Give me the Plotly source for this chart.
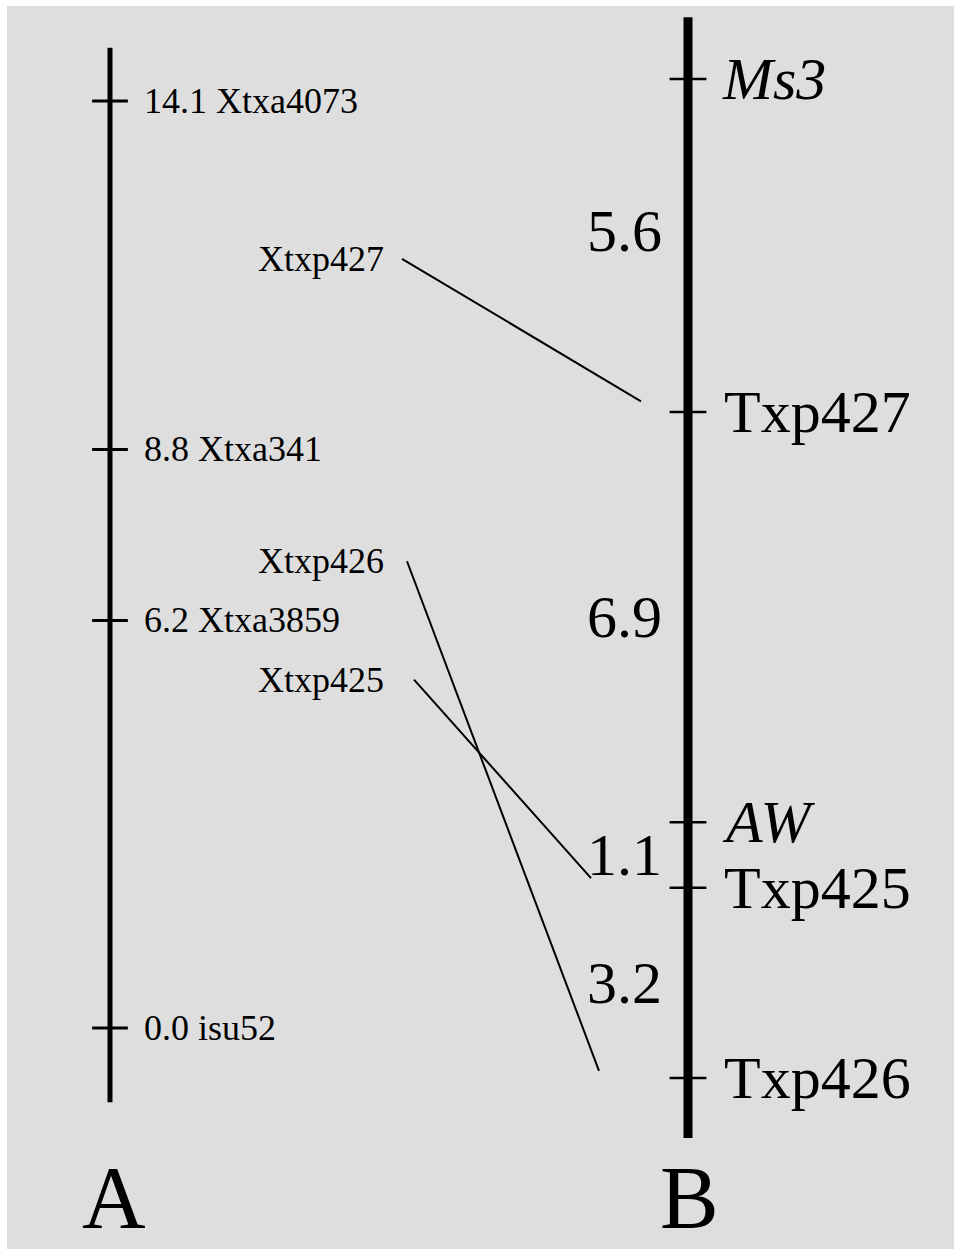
import itertools
import plotly.graph_objects as go

# ---------------- data ----------------
# Map A (cM from isu52)
map_a_markers = ["Xtxa4073", "Xtxa341", "Xtxa3859", "isu52"]
map_a_cm = [14.1, 8.8, 6.2, 0.0]
map_a_extent = [-1.13, 14.91]

# Map B (intervals in cM, from Ms3 downward)
map_b_markers = ["Ms3", "Txp427", "AW", "Txp425", "Txp426"]
map_b_italic = [True, False, True, False, False]
map_b_intervals = [5.6, 6.9, 1.1, 3.2]
map_b_extent = [-1.04, 17.81]

# Shared SSR markers linking the two maps
shared_markers = ["Xtxp427", "Xtxp426", "Xtxp425"]
shared_a_cm = [11.7, 7.1, 5.3]          # approximate placement next to map A
shared_b_end_cm = [5.42, 16.68, 13.44]  # where the link reaches map B

map_titles = ["A", "B"]

# ---------------- layout constants (pixels) ----------------
W, H = 954, 1249
ML, MT = 7, 6
A_ZERO_PX, A_PX_PER_CM = 1028, 65.74
B_ZERO_PX, B_PX_PER_CM = 79, 59.46
X_A, X_B = 110, 688
LINK_X0 = [402, 407, 414]
LINK_X1 = [641, 599, 591]
FONT = "Liberation Serif, Times New Roman, serif"
INK = "#000000"
BG = "#dedede"

map_b_cm = [0.0] + list(itertools.accumulate(map_b_intervals))


def b_to_a(cm_b):
    px = B_ZERO_PX + cm_b * B_PX_PER_CM
    return (A_ZERO_PX - px) / A_PX_PER_CM


def px_to_a(px):
    return (A_ZERO_PX - px) / A_PX_PER_CM


fig = go.Figure()

# chromosome A
fig.add_trace(go.Scatter(x=[X_A, X_A], y=map_a_extent, mode="lines",
                         line=dict(color=INK, width=5), yaxis="y",
                         hoverinfo="skip"))
fig.add_trace(go.Scatter(x=[X_A] * len(map_a_cm), y=map_a_cm, mode="markers",
                         marker=dict(symbol="line-ew", size=25.5,
                                     line=dict(color=INK, width=3)),
                         yaxis="y", hoverinfo="skip"))

# chromosome B
fig.add_trace(go.Scatter(x=[X_B, X_B], y=map_b_extent, mode="lines",
                         line=dict(color=INK, width=9), yaxis="y2",
                         hoverinfo="skip"))
fig.add_trace(go.Scatter(x=[X_B] * len(map_b_cm), y=map_b_cm, mode="markers",
                         marker=dict(symbol="line-ew", size=26.3,
                                     line=dict(color=INK, width=2.5)),
                         yaxis="y2", hoverinfo="skip"))

# links
for x0, x1, a, b in zip(LINK_X0, LINK_X1, shared_a_cm, shared_b_end_cm):
    fig.add_trace(go.Scatter(x=[x0, x1], y=[a, b_to_a(b)], mode="lines",
                             line=dict(color=INK, width=2), yaxis="y",
                             hoverinfo="skip"))

ann = []
for name, cm in zip(map_a_markers, map_a_cm):
    ann.append(dict(x=142, y=cm, yref="y", xref="x", text=f"{cm:.1f} {name}",
                    xanchor="left", yanchor="middle", showarrow=False,
                    font=dict(family=FONT, size=36, color=INK)))
for name, cm in zip(shared_markers, shared_a_cm):
    ann.append(dict(x=386, y=cm, yref="y", xref="x", text=name,
                    xanchor="right", yanchor="middle", showarrow=False,
                    font=dict(family=FONT, size=36, color=INK)))
for name, cm, it in zip(map_b_markers, map_b_cm, map_b_italic):
    ann.append(dict(x=720 if it else 722, y=cm, yref="y2", xref="x",
                    text=f"<i>{name}</i>" if it else name,
                    xanchor="left", yanchor="middle", showarrow=False,
                    font=dict(family=FONT, size=60, color=INK)))
nudges = [-0.25, 0, 0, 0]
for i, d in enumerate(map_b_intervals):
    mid = (map_b_cm[i] + map_b_cm[i + 1]) / 2 + nudges[i]
    ann.append(dict(x=664, y=mid, yref="y2", xref="x", text=f"{d}",
                    xanchor="right", yanchor="middle", showarrow=False,
                    font=dict(family=FONT, size=60, color=INK)))
for t, xc in zip(map_titles, [114, 689]):
    ann.append(dict(x=xc, y=px_to_a(1197), yref="y", xref="x", text=t,
                    xanchor="center", yanchor="middle", showarrow=False,
                    font=dict(family=FONT, size=88, color=INK)))

# white page border at left and top
shapes = [
    dict(type="rect", xref="x", yref="paper", x0=0, x1=ML, y0=0, y1=1,
         fillcolor="white", line=dict(width=0), layer="below"),
    dict(type="rect", xref="x", yref="y", x0=0, x1=W,
         y0=px_to_a(0), y1=px_to_a(MT), fillcolor="white",
         line=dict(width=0), layer="below"),
]

fig.update_layout(
    width=W, height=H,
    margin=dict(l=0, r=0, t=0, b=0, pad=0),
    paper_bgcolor=BG, plot_bgcolor=BG,
    showlegend=False,
    annotations=ann,
    shapes=shapes,
    xaxis=dict(range=[0, W], visible=False, fixedrange=True),
    yaxis=dict(range=[px_to_a(H), px_to_a(0)], visible=False, fixedrange=True),
    yaxis2=dict(range=[(H - B_ZERO_PX) / B_PX_PER_CM, (0 - B_ZERO_PX) / B_PX_PER_CM],
                overlaying="y", visible=False, fixedrange=True),
)

fig.write_html(
    "out.html",
    config={"displayModeBar": False},
    post_script=(
        "document.body.style.margin='0';"
        "document.body.style.overflow='hidden';"
        f"document.body.style.background='{BG}';"
        f"document.documentElement.style.background='{BG}';"
    ),
)
